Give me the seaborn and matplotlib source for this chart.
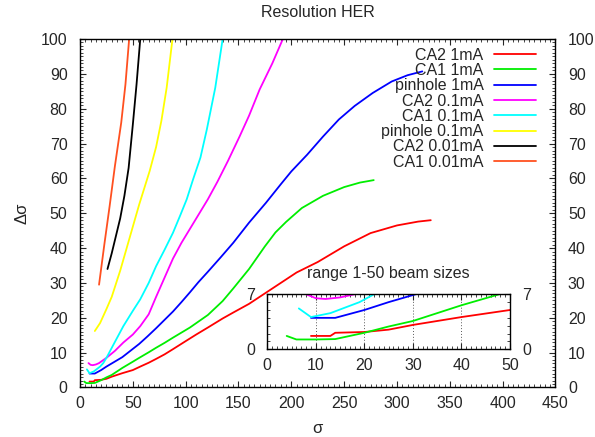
import numpy as np
import matplotlib
matplotlib.use("Agg")
import matplotlib.pyplot as plt
import seaborn as sns
from matplotlib.ticker import MultipleLocator

# curves (sigma, delta sigma)
ca2_1ma_x = [9, 13, 14, 20, 25, 30, 40, 50, 57, 65, 72, 80, 88, 100, 110, 121, 135, 145, 160, 175, 190, 205, 225, 250, 275, 300, 320, 332]
ca2_1ma_y = [1.7, 1.7, 2.1, 2.2, 2.5, 3.1, 4.1, 5.0, 6.0, 7.1, 8.2, 9.5, 11.0, 13.3, 15.2, 17.2, 19.8, 21.5, 24.0, 27.0, 30.0, 33.0, 36.0, 40.5, 44.3, 46.5, 47.6, 48.0]

ca1_1ma_x = [4, 6, 10, 14, 20, 25, 30, 40, 50, 56, 65, 72, 80, 88, 104, 121, 135, 145, 160, 175, 185, 195, 210, 230, 250, 265, 278]
ca1_1ma_y = [1.7, 1.25, 1.25, 1.3, 2.1, 2.9, 3.6, 5.6, 7.4, 8.5, 10.1, 11.4, 12.8, 14.3, 17.2, 20.8, 24.8, 28.4, 34.0, 40.5, 44.5, 47.5, 51.5, 55.0, 57.5, 58.8, 59.5]

pin_1ma_x = [9, 14, 20, 25, 30, 40, 48, 56, 64, 72, 80, 88, 96, 104, 112, 121, 133, 145, 160, 176, 190, 200, 215, 230, 245, 260, 277, 295, 310, 324]
pin_1ma_y = [4.0, 4.0, 5.0, 6.0, 6.9, 8.7, 10.6, 12.5, 14.7, 17.0, 19.4, 21.8, 24.5, 27.3, 30.2, 33.2, 37.3, 41.5, 47.3, 53.0, 58.3, 62.0, 66.8, 72.0, 76.9, 80.8, 84.5, 87.8, 89.6, 90.7]

ca2_01ma_x = [8, 10, 12, 15, 18, 25, 33, 41, 50, 57, 65, 72, 80, 88, 96, 104, 113, 121, 130, 140, 151, 160, 170, 182, 192]
ca2_01ma_y = [7.0, 6.5, 6.4, 6.6, 7.0, 8.5, 10.5, 12.9, 15.2, 17.6, 21.0, 26.0, 31.5, 37.0, 41.5, 45.5, 50.0, 54.0, 59.0, 65.0, 72.0, 78.0, 85.5, 93.0, 100.0]

ca1_01ma_x = [6.5, 9, 13, 19, 22, 25, 32, 41, 50, 57, 65, 72, 80, 88, 95, 101, 107, 114, 120, 128, 135]
ca1_01ma_y = [5.2, 4.1, 4.6, 6.0, 7.0, 8.5, 12.5, 17.6, 22.0, 25.3, 30.0, 34.8, 39.5, 44.4, 49.5, 54.0, 59.7, 66.0, 74.0, 86.0, 100.0]

pin_01ma_x = [14, 19, 25, 30, 38, 47, 56, 66, 72, 77, 82, 87.5]
pin_01ma_y = [16.2, 18.5, 22.5, 26.0, 33.5, 43.0, 52.5, 62.2, 69.0, 76.5, 86.0, 100.0]

ca2_001ma_x = [26, 30, 34, 38, 42, 46, 50, 53.5, 57]
ca2_001ma_y = [34.0, 38.5, 43.5, 48.5, 55.0, 63.0, 75.5, 87.0, 100.0]

ca1_001ma_x = [18, 23, 28, 33, 39, 43, 46.5]
ca1_001ma_y = [29.5, 41.0, 52.0, 63.5, 76.0, 87.0, 100.0]

labels = ["CA2 1mA", "CA1 1mA", "pinhole 1mA", "CA2 0.1mA", "CA1 0.1mA",
          "pinhole 0.1mA", "CA2 0.01mA", "CA1 0.01mA"]
colors = ["#ff0000", "#00ee00", "#0000ff", "#ff00ff", "#00ffff",
          "#ffff00", "#000000", "#ff5020"]
series = [(ca2_1ma_x, ca2_1ma_y), (ca1_1ma_x, ca1_1ma_y), (pin_1ma_x, pin_1ma_y),
          (ca2_01ma_x, ca2_01ma_y), (ca1_01ma_x, ca1_01ma_y), (pin_01ma_x, pin_01ma_y),
          (ca2_001ma_x, ca2_001ma_y), (ca1_001ma_x, ca1_001ma_y)]

sns.set_style("ticks")
plt.rcParams['font.family'] = ['Liberation Sans', 'DejaVu Sans']
plt.rcParams['font.size'] = 11.5


def style_axes(ax):
    ax.tick_params(which='both', direction='in', top=True, right=True,
                   labelright=True, labelsize=11.5)
    ax.tick_params(which='major', length=4, width=0.8)
    ax.tick_params(which='minor', length=2, width=0.6)
    ax.tick_params(axis='y', which='major', pad=9)
    ax.tick_params(axis='x', which='major', pad=6)
    for s in ax.spines.values():
        s.set_linewidth(1.0)
        s.set_color('black')


fig = plt.figure(figsize=(5.95, 4.37), dpi=100)
ax = fig.add_axes([0.1345, 0.1133, 0.799, 0.7975])

for (x, y), lab, c in zip(series, labels, colors):
    sns.lineplot(x=x, y=y, ax=ax, color=c, label=lab, lw=1.3, sort=False)

ax.set_xlim(0, 450)
ax.set_ylim(0, 100)
ax.xaxis.set_major_locator(MultipleLocator(50))
ax.xaxis.set_minor_locator(MultipleLocator(5))
ax.yaxis.set_major_locator(MultipleLocator(10))
ax.yaxis.set_minor_locator(MultipleLocator(1))
style_axes(ax)
ax.set_title("Resolution HER", fontsize=11.5, pad=16)
ax.set_xlabel("σ", fontsize=12)
ax.set_ylabel("Δσ", fontsize=12)
ax.xaxis.set_label_coords(0.5, -0.095)
ax.yaxis.set_label_coords(-0.107, 0.5)

leg = ax.legend(loc='upper right', bbox_to_anchor=(0.985, 1.012), frameon=False,
                markerfirst=False, handlelength=2.6, handletextpad=0.65,
                labelspacing=0.02, fontsize=11.5, borderpad=0.3)
for t in leg.get_texts():
    t.set_ha('right')
leg._legend_box.align = "right"

# inset: range 1-50 beam sizes
axin = fig.add_axes([0.4492, 0.2007, 0.4079, 0.1259])
for (x, y), c in zip(series, colors):
    sns.lineplot(x=x, y=y, ax=axin, color=c, lw=1.3, sort=False, legend=False)
axin.set_xlim(0, 50)
axin.set_ylim(0, 7)
axin.set_xticks([0, 10, 20, 30, 40, 50])
axin.set_yticks([0, 7])
axin.xaxis.set_minor_locator(MultipleLocator(1))
axin.yaxis.set_minor_locator(MultipleLocator(1))
for gx in [10, 20, 30, 40]:
    axin.axvline(gx, color='0.35', lw=0.7, ls=(0, (1, 2)), zorder=0)
style_axes(axin)
axin.set_title("range 1-50 beam sizes", fontsize=11.5, pad=12)
axin.set_xlabel("")
axin.set_ylabel("")

fig.savefig("out.png", dpi=100)
